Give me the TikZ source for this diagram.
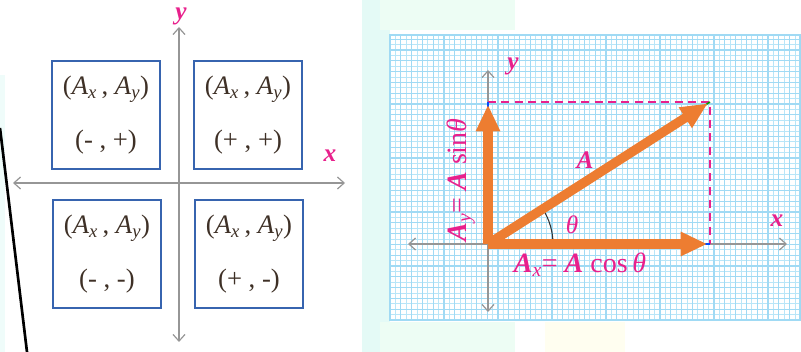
\documentclass[tikz,border=0pt]{standalone}
\usepackage{fontspec}
\setmainfont{Liberation Serif}
\usetikzlibrary{arrows.meta}

\definecolor{mymagenta}{RGB}{232,32,140}
\definecolor{myorange}{RGB}{237,125,49}
\definecolor{myblue}{RGB}{55,100,175}
\definecolor{mytext}{RGB}{62,48,38}
\definecolor{myaxis}{RGB}{150,150,150}
\definecolor{mygridminor}{RGB}{185,230,248}
\definecolor{mygridmajor}{RGB}{160,218,244}
\definecolor{mypale}{RGB}{228,250,246}

\newcommand{\bA}{\textbf{\textit{A}}}
\newcommand{\pairA}{(\textit{A}\textsubscript{\textit{x}}\,, \textit{A}\textsubscript{\textit{y}})}

\begin{document}
\begin{tikzpicture}[
    x=0.75pt, y=0.75pt,
    mybox/.style={rectangle, draw=myblue, line width=1.1pt, minimum width=81pt, minimum height=81pt, inner sep=0pt, align=center, text=mytext, font=\fontsize{20}{40}\selectfont},
    myaxis/.style={{Straight Barb[length=5pt,width=9pt]}-{Straight Barb[length=5pt,width=9pt]}, draw=myaxis, line width=0.9pt},
    myvec/.style={-{Triangle[length=20pt,width=17pt]}, draw=myorange, line width=7pt, shorten >=2pt},
    mylabel/.style={text=mymagenta, font=\fontsize{21}{21}\selectfont},
    myaxlabel/.style={text=mymagenta, inner sep=0pt, font=\fontsize{19}{19}\selectfont\bfseries\itshape},
]
\useasboundingbox (0,0) rectangle (801,352);

% pale background patches
\fill[mypale] (362,0) rectangle (390,352);
\fill[mypale!60] (0,0) rectangle (5,277);
\fill[green!8!mypale!40] (380,0) rectangle (515,30);
\fill[yellow!6] (545,0) rectangle (625,30);
\fill[green!8!mypale!40] (380,322) rectangle (515,352);

% left panel: quadrant signs
\coordinate (lt) at (0,224);
\coordinate (lb) at (27,0);
\draw[line width=2pt] (lt) -- (lb);

\coordinate (ytop) at (179,325);
\coordinate (ybot) at (179,10);
\coordinate (xleft) at (13,169);
\coordinate (xright) at (345,169);
\draw[myaxis] (ybot) -- (ytop);
\draw[myaxis] (xleft) -- (xright);
\node[myaxlabel] (ylbl) at (181,336) {y};
\node[myaxlabel] (xlbl) at (330,196) {x};

\node[mybox] (q2) at (106,237) {\pairA\\(- , +)};
\node[mybox] (q1) at (248,237) {\pairA\\(+ , +)};
\node[mybox] (q3) at (107,98) {\pairA\\(- , -)};
\node[mybox] (q4) at (249,98) {\pairA\\(+ , -)};

% right panel: components of A
\fill[white] (390,32) rectangle (800,317);
\begin{scope}[shift={(390,32)}]
\draw[mygridminor, line width=0.6pt, step=5.4] (0,0) grid (410,285);
\draw[mygridmajor, line width=0.8pt, step=10.8] (0,0) grid (410,285);
\draw[mygridmajor, line width=1pt] (0,0) rectangle (410,285);
\end{scope}

\coordinate (O) at (488,108);
\coordinate (Ax) at (710,108);
\coordinate (Ay) at (488,250);
\coordinate (P) at (710,250);
\coordinate (ry1) at (488,282);
\coordinate (ry2) at (488,40);
\coordinate (rx1) at (408,108);
\coordinate (rx2) at (787,108);

\draw[myaxis] (ry2) -- (ry1);
\draw[myaxis] (rx1) -- (rx2);
\node[myaxlabel] (rylbl) at (513,286) {y};
\node[myaxlabel] (rxlbl) at (777,131) {x};

\draw[mymagenta, line width=1.2pt, dash pattern=on 6pt off 4pt] (Ay) -- (P) -- (Ax);

\draw[blue!70!cyan, line width=1.2pt] (O) -- (Ay);
\draw[blue!70!cyan, line width=1.2pt] (O) -- (Ax);
\draw[green!60!black, line width=1.2pt] (O) -- (P);

\draw[black!80, line width=0.8pt] (O) ++(65,0) arc[start angle=0, end angle=32.6, radius=65];

\draw[myvec] (O) -- (Ay);
\draw[myvec] (O) -- (Ax);
\draw[myvec] (O) -- (P);

\node[mylabel, font=\fontsize{19}{19}\selectfont] (Albl) at (585,192) {\bA};
\node[mylabel, font=\fontsize{19}{19}\selectfont] (thlbl) at (572,127) {\textit{θ}};
\node[mylabel] (axlbl) at (580,87) {\bA\textsubscript{\textit{x}}= \bA{} cos\,\textit{θ}};
\node[mylabel, rotate=90] (aylbl) at (461,172) {\bA\textsubscript{\textit{y}}= \bA{} sin\textit{θ}};
\end{tikzpicture}
\end{document}
